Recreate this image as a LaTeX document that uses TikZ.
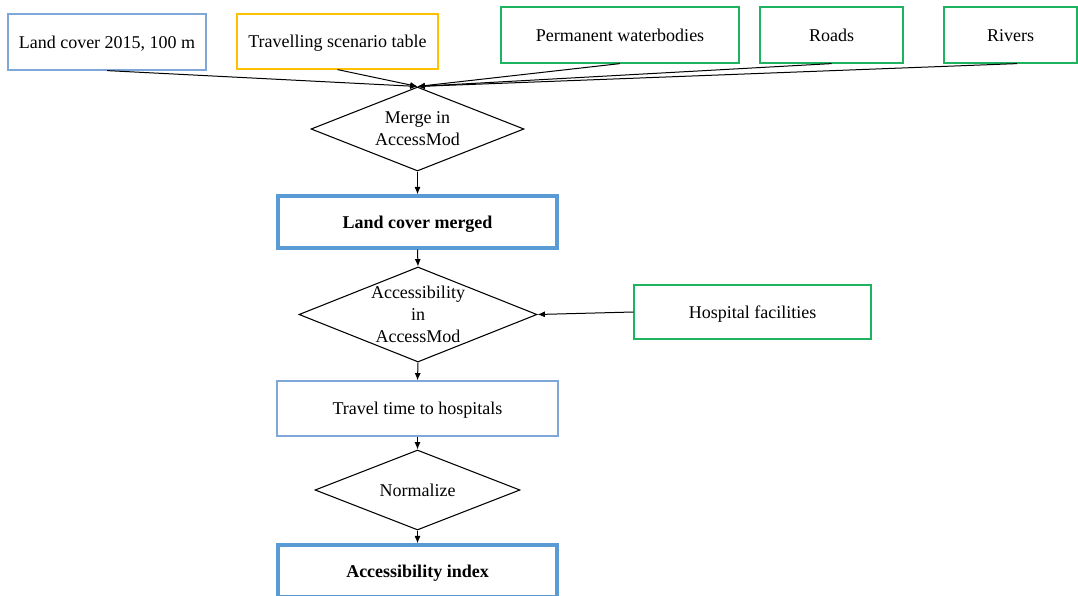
\documentclass[tikz,border=0pt]{standalone}
\usepackage{fontspec}
\setmainfont{Liberation Serif}
\usetikzlibrary{shapes.geometric,arrows.meta}
\definecolor{lblue}{HTML}{7FA8D8}
\definecolor{tblue}{HTML}{5B9BD5}
\definecolor{yel}{HTML}{FFC000}
\definecolor{grn}{HTML}{1DB35F}
\begin{document}
\begin{tikzpicture}[x=0.75pt,y=-0.75pt,
  font=\fontsize{13.5}{16.5}\selectfont,
  sz/.style 2 args={minimum width={#1*0.75pt}, minimum height={#2*0.75pt}},
  box/.style={draw, rectangle, inner sep=0pt, line width=0.9pt, align=center, text height=1.1em, text depth=0.2em},
  thinblue/.style={box, draw=lblue},
  thickblue/.style={box, draw=tblue, line width=2.6pt, font=\fontsize{13.5}{16.5}\selectfont\bfseries},
  yelbox/.style={box, draw=yel},
  grnbox/.style={box, draw=grn},
  dia/.style={draw, shape=diamond, line width=0.8pt, inner xsep=-20pt, inner ysep=-5pt, align=center, text depth=-0.45em},
  arr/.style={-{Latex[length=5.5pt,width=4.5pt]}, line width=0.75pt}]
\useasboundingbox (0,0) rectangle (1078,596);
\clip (0,0) rectangle (1078,596);
\fill[white] (0,0) rectangle (1078,596);

\node[thinblue, sz={198}{56}] (lc) at (107,42) {Land cover 2015, 100 m};
\node[yelbox, sz={201}{55}] (ts) at (337.5,41.5) {Travelling scenario table};
\node[grnbox, sz={238}{56}] (pw) at (620,35) {Permanent waterbodies};
\node[grnbox, sz={143}{56}] (rd) at (831.5,35) {Roads};
\node[grnbox, sz={133}{56}] (rv) at (1010.5,35) {Rivers};

\node[dia, sz={213}{84}] (merge) at (417.5,129) {Merge in\\AccessMod};
\node[thickblue, sz={279}{52}] (lcm) at (417.5,222) {Land cover merged};
\node[dia, sz={238}{95}] (acc) at (418,314.5) {Accessibility\\in\\AccessMod};
\node[grnbox, sz={237}{54}] (hosp) at (752.5,312) {Hospital facilities};
\node[thinblue, sz={281}{55}] (tt) at (417.5,408.5) {Travel time to hospitals};
\node[dia, sz={205}{80}] (norm) at (417.5,490) {Normalize};
\node[thickblue, sz={279}{52}] (ai) at (417.5,571) {Accessibility index};

\draw[arr] (lc.south) -- (merge.north);
\draw[arr] (ts.south) -- (merge.north);
\draw[arr] (pw.south) -- (merge.north);
\draw[arr] (rd.south) -- (merge.north);
\draw[arr] ([xshift=5pt]rv.south) -- (merge.north);
\draw[arr] (merge.south) -- (lcm.north);
\draw[arr] (lcm.south) -- (acc.north);
\draw[arr] (hosp.west) -- (acc.east);
\draw[arr] (acc.south) -- (tt.north);
\draw[arr] (tt.south) -- (norm.north);
\draw[arr] (norm.south) -- (ai.north);
\end{tikzpicture}
\end{document}
